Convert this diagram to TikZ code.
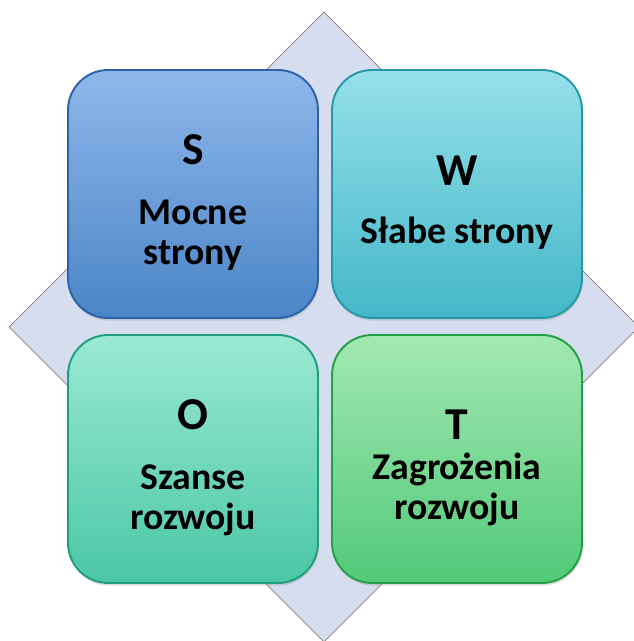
\documentclass[tikz,border=0pt]{standalone}
\usepackage{fontspec}
\setmainfont{Carlito}
\usetikzlibrary{shapes,shadows,calc}
\definecolor{backfill}{HTML}{D5DDEE}
\definecolor{sTop}{HTML}{8FB7EA}
\definecolor{sBot}{HTML}{4A85C7}
\definecolor{sLine}{HTML}{2C62A6}
\definecolor{wTop}{HTML}{95E0EA}
\definecolor{wBot}{HTML}{44B7C8}
\definecolor{wLine}{HTML}{2598A6}
\definecolor{oTop}{HTML}{9AE9D3}
\definecolor{oBot}{HTML}{4BC7A6}
\definecolor{oLine}{HTML}{1E9E7C}
\definecolor{tTop}{HTML}{A2E8B2}
\definecolor{tBot}{HTML}{52C979}
\definecolor{tLine}{HTML}{23A046}
\tikzstyle{quad}=[draw, line width=1.1pt, rounded corners=0.8cm,
  text centered, align=center, minimum width=5cm, minimum height=4.96cm,
  font=\bfseries\fontsize{21.5}{23}\selectfont,
  drop shadow={opacity=0.25, shadow xshift=0.5pt, shadow yshift=-1.5pt}]
\newcommand{\bigletter}[1]{{\fontsize{26}{31}\selectfont\rule{0pt}{27pt}#1}}

\begin{document}
\begin{tikzpicture}[x=0.02cm,y=-0.02cm]
  \useasboundingbox (0,0) rectangle (633,641);
  \node(back)[diamond, draw=gray, fill=backfill, inner sep=0pt,
    minimum width=12.6cm, minimum height=12.6cm] at (324,327) {};

  \node(s)[quad, draw=sLine, top color=sTop, bottom color=sBot] at (193,194) {
    \bigletter{S}\\[11pt]
    Mocne\\
    strony
  };

  \path(s.center)+(264,0) node(w)[quad, draw=wLine, top color=wTop, bottom color=wBot]{
    \bigletter{W}\\[10pt]
    Słabe strony
  };

  \path(s.center)+(0,265) node(o)[quad, draw=oLine, top color=oTop, bottom color=oBot]{
    \bigletter{O}\\[11pt]
    Szanse\\
    rozwoju
  };

  \path(o.center)+(264,0) node(t)[quad, draw=tLine, top color=tTop, bottom color=tBot]{
    \bigletter{T}\\
    Zagrożenia\\
    rozwoju
  };
\end{tikzpicture}
\end{document}
